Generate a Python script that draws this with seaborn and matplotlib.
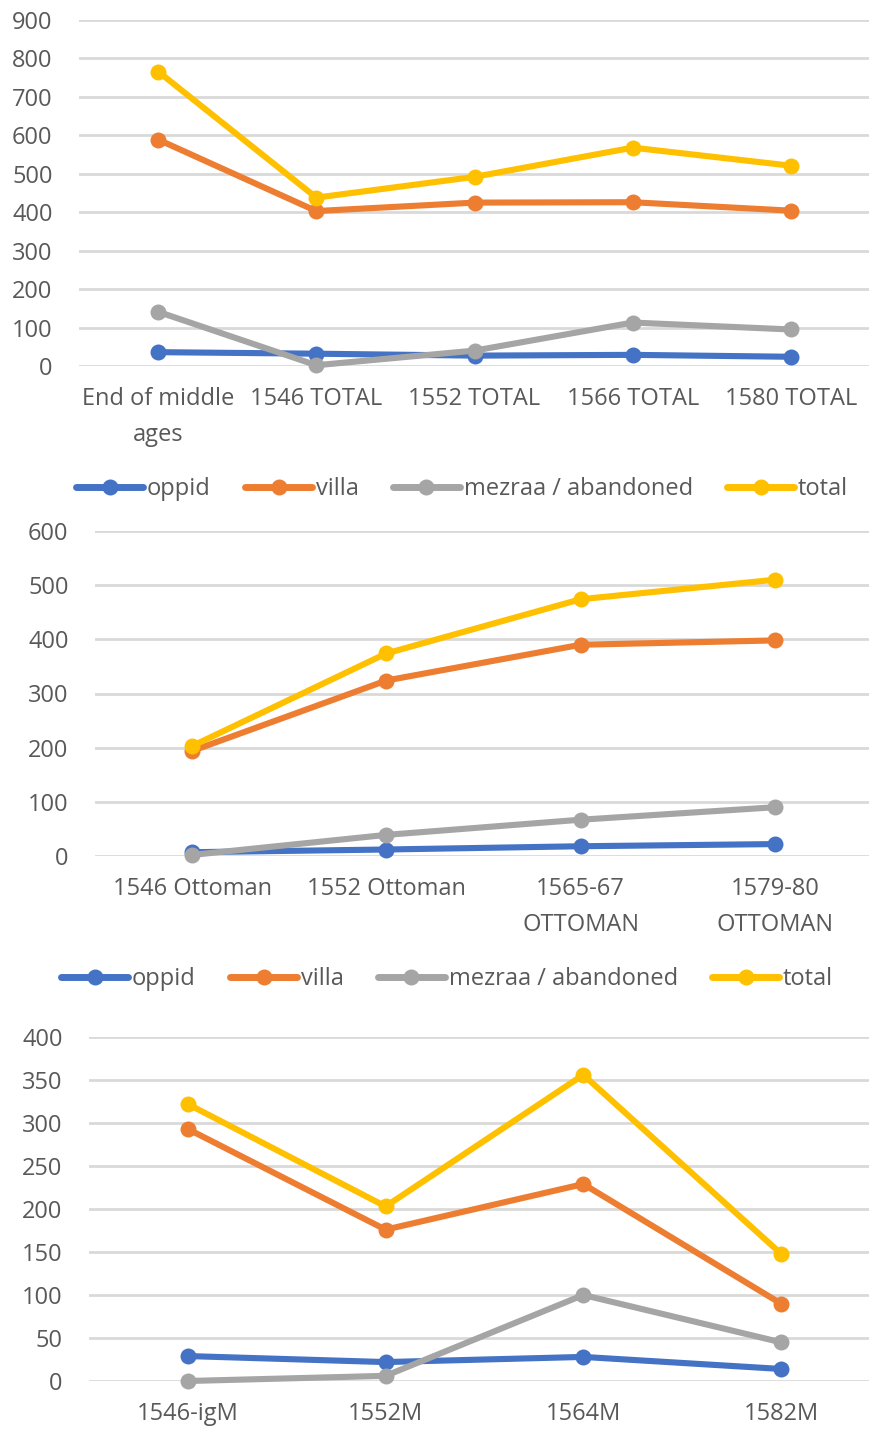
import matplotlib
matplotlib.use("Agg")
import matplotlib.pyplot as plt
from matplotlib.lines import Line2D
import seaborn as sns
import pandas as pd

# ---- data ----
series_names = ["oppid", "villa", "mezraa / abandoned", "total"]

periods_a = ["End of middle\nages", "1546 TOTAL", "1552 TOTAL", "1566 TOTAL", "1580 TOTAL"]
oppid_a = [36, 32, 27, 29, 24]
villa_a = [589, 403, 425, 426, 404]
mezraa_a = [141, 2, 40, 113, 95]
total_a = [766, 438, 492, 568, 521]

periods_b = ["1546 Ottoman", "1552 Ottoman", "1565-67\nOTTOMAN", "1579-80\nOTTOMAN"]
oppid_b = [7, 12, 18, 22]
villa_b = [194, 324, 390, 398]
mezraa_b = [2, 39, 67, 90]
total_b = [203, 374, 474, 510]

periods_c = ["1546-igM", "1552M", "1564M", "1582M"]
oppid_c = [29, 22, 28, 14]
villa_c = [293, 176, 229, 90]
mezraa_c = [0, 6, 100, 45]
total_c = [322, 203, 356, 148]

yticks_a = [0, 100, 200, 300, 400, 500, 600, 700, 800, 900]
yticks_b = [0, 100, 200, 300, 400, 500, 600]
yticks_c = [0, 50, 100, 150, 200, 250, 300, 350, 400]

colors = {"oppid": "#4472C4", "villa": "#ED7D31",
          "mezraa / abandoned": "#A5A5A5", "total": "#FFC000"}
text_color = "#595959"
grid_color = "#D9D9D9"

LW = 4.4      # series line width (pt)
MS = 11.5     # marker diameter (pt)
FS = 17       # text size (pt)

sns.set_theme(style="white")
plt.rcParams["font.family"] = ["Open Sans", "DejaVu Sans"]

W, H = 870, 1430
fig = plt.figure(figsize=(W / 100, H / 100), dpi=100)


def add_ax(left, right, top, bottom):
    return fig.add_axes([left / W, 1 - bottom / H, (right - left) / W, (bottom - top) / H])


def long_form(periods, values):
    rows = []
    for name, vals in zip(series_names, values):
        for p, v in zip(periods, vals):
            rows.append({"period": p, "count": v, "series": name})
    return pd.DataFrame(rows)


def draw(ax, periods, values, yticks, xmax):
    df = long_form(periods, values)
    sns.lineplot(data=df, x="period", y="count", hue="series",
                 hue_order=series_names, palette=colors, marker="o",
                 markersize=MS, markeredgewidth=0, linewidth=LW,
                 legend=False, ax=ax, zorder=3)
    ax.set_ylim(yticks[0], yticks[-1])
    ax.set_xlim(-0.5, xmax)
    ax.set_yticks(yticks)
    ax.set_xticks(range(len(periods)))
    ax.set_xticklabels(periods, linespacing=1.65)
    ax.set_xlabel("")
    ax.set_ylabel("")
    for s in ax.spines.values():
        s.set_visible(False)
    ax.grid(axis="y", color=grid_color, linewidth=2.0, zorder=0)
    ax.grid(axis="x", visible=False)
    ax.set_axisbelow(True)
    ax.tick_params(axis="both", length=0, labelsize=FS, colors=text_color)
    ax.tick_params(axis="y", pad=19)
    ax.tick_params(axis="x", pad=15)
    for lab in ax.get_xticklabels():
        lab.set_verticalalignment("top")
    ax.patch.set_alpha(0)
    for ln in ax.get_lines():
        ln.set_linewidth(LW)
        ln.set_markersize(MS)
        ln.set_solid_joinstyle("round")
        ln.set_clip_on(False)


def add_legend(cx, cy):
    handles = [Line2D([0], [0], color=colors[n], marker="o", markersize=MS,
                      markeredgewidth=0, linewidth=LW + 0.6,
                      solid_capstyle="round") for n in series_names]
    fig.legend(handles, series_names, loc="center", ncol=4,
               bbox_to_anchor=(cx / W, 1 - cy / H), frameon=False,
               fontsize=FS, labelcolor=text_color, handlelength=2.85,
               handletextpad=0.15, columnspacing=1.45, numpoints=1,
               borderpad=0, borderaxespad=0)


ax1 = add_ax(79, 870, 20, 366)
draw(ax1, periods_a, [oppid_a, villa_a, mezraa_a, total_a], yticks_a, 4.5)

add_legend(462, 489)

ax2 = add_ax(95, 870, 531, 856)
draw(ax2, periods_b, [oppid_b, villa_b, mezraa_b, total_b], yticks_b, 3.49)

add_legend(447, 979)

ax3 = add_ax(89, 870, 1037, 1381)
draw(ax3, periods_c, [oppid_c, villa_c, mezraa_c, total_c], yticks_c, 3.45)

fig.savefig("out.png", dpi=100, facecolor="white")
